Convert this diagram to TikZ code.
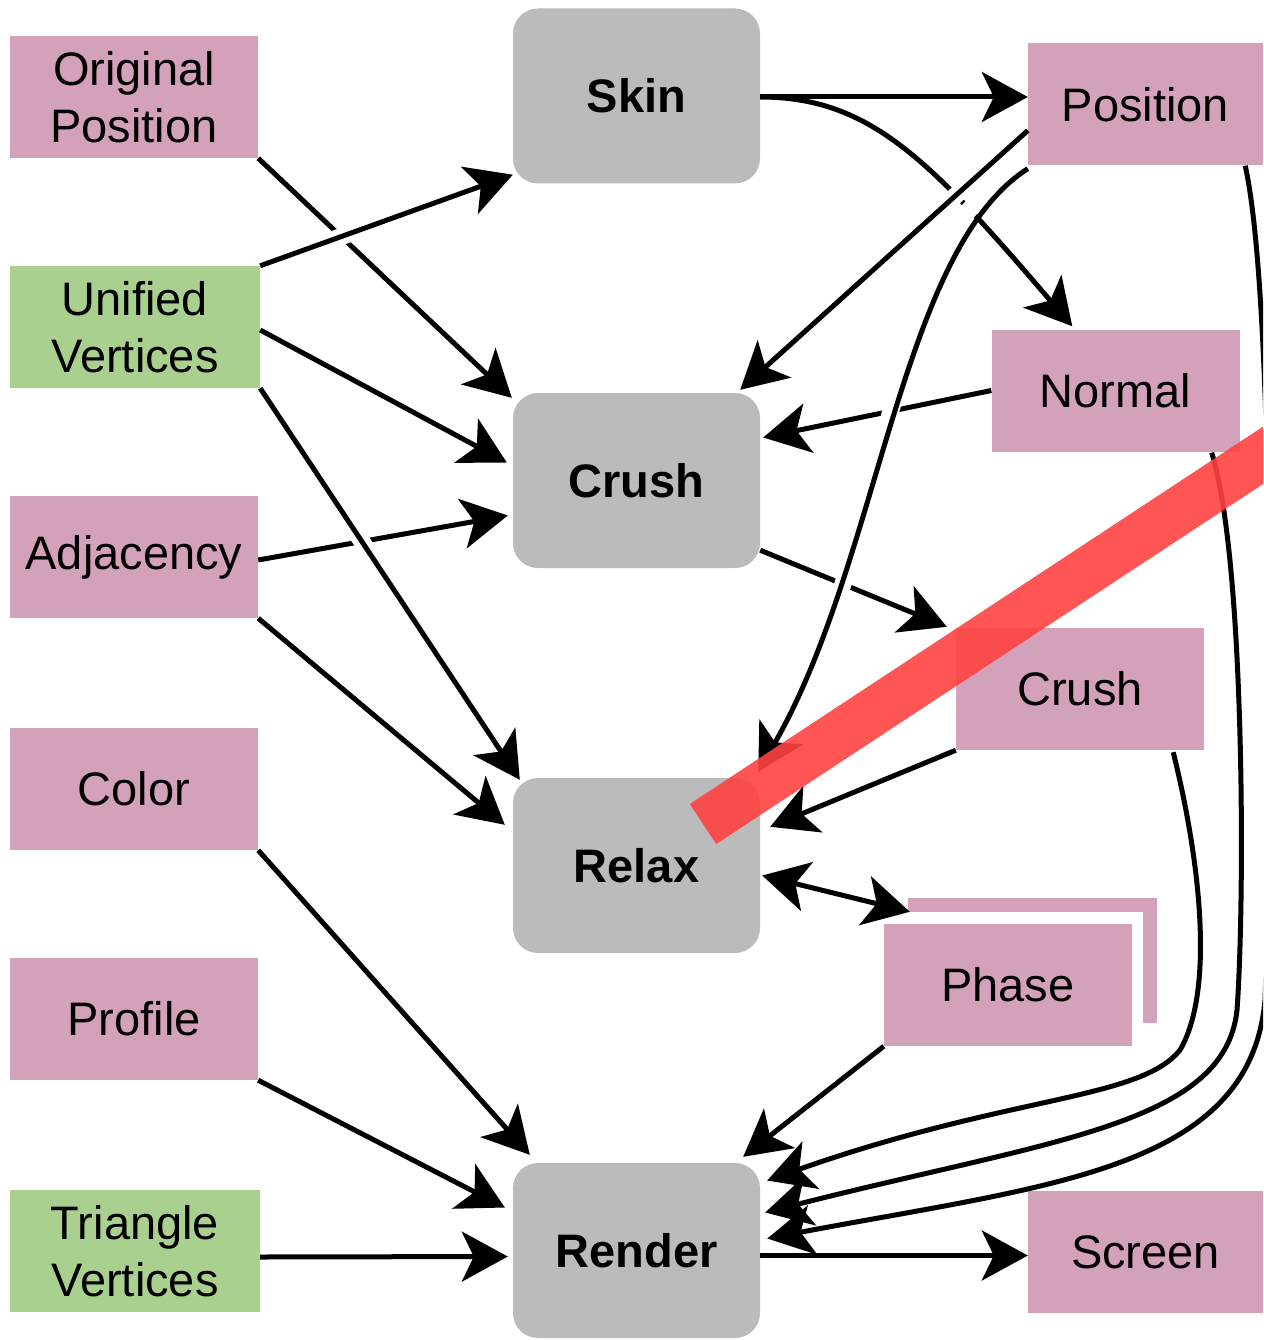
\documentclass[tikz,border=0pt]{standalone}
\usepackage{fontspec}
\setmainfont{Liberation Sans}
\usetikzlibrary{arrows.meta}
\definecolor{boxpink}{RGB}{212,161,187}
\definecolor{boxgreen}{RGB}{169,208,142}
\definecolor{boxgray}{RGB}{187,187,187}
\definecolor{strike}{RGB}{255,66,66}
\newcommand{\labelfont}{\fontsize{47}{57}\selectfont}

\begin{document}
\begin{tikzpicture}[x=1pt,y=-1pt,
  pinkbox/.style={fill=boxpink, minimum width=248pt, minimum height=122pt,
    inner sep=0pt, align=center, font=\labelfont},
  greenbox/.style={pinkbox, fill=boxgreen, minimum width=250pt},
  procbox/.style={fill=boxgray, rounded corners=25pt, minimum width=247pt,
    minimum height=175pt, inner sep=0pt, font=\labelfont\bfseries},
  conn/.style={draw, line width=5pt, -{Stealth[length=46pt,width=50pt,inset=12pt]}},
  both/.style={draw, line width=5pt, {Stealth[length=46pt,width=50pt,inset=12pt]}-{Stealth[length=46pt,width=50pt,inset=12pt]}},
  halo/.style={preaction={draw=white, line width=17pt, -, shorten <=#1, shorten >=50pt}},
  halo/.default=20pt]

\useasboundingbox (0,0) rectangle (1263,1340);
\clip (0,0) rectangle (1263,1340);

% input buffers
\node[pinkbox]  (op)   at (134,97)   {Original\\Position};
\node[greenbox] (uv)   at (135,327)  {Unified\\Vertices};
\node[pinkbox]  (adj)  at (134,557)  {Adjacency};
\node[pinkbox]  (col)  at (134,789)  {Color};
\node[pinkbox]  (prof) at (134,1019) {Profile};
\node[greenbox] (tv)   at (135,1251) {Triangle\\Vertices};

% shader passes
\node[procbox] (skin)   at (636.5,96)     {Skin};
\node[procbox] (crush)  at (636.5,480.5)  {Crush};
\node[procbox] (relax)  at (636.5,865.5)  {Relax};
\node[procbox] (render) at (636.5,1250.5) {Render};

% intermediate buffers
\node[pinkbox, minimum width=235pt] (pos) at (1145.5,104.5) {Position};
\node[pinkbox] (normal) at (1115.5,390.5) {Normal};
\node[pinkbox] (crushb) at (1080,689)     {Crush};
\fill[boxpink] (908,898) rectangle (1157,1023);
\fill[white] (874,912) rectangle (1143,1056);
\node[pinkbox] (phase)  at (1008,985)     {Phase};
\node[pinkbox, minimum width=235pt] (screen) at (1145.5,1252) {Screen};

% left-hand inputs
\draw[conn] (op.south east) -- ([shift={(-1,5)}]crush.north west);
\draw[conn, halo] (uv.north east) -- ([shift={(0,-9)}]skin.south west);
\draw[conn] ([shift={(0,3)}]uv.east) -- ([shift={(-6,-18)}]crush.west);
\draw[conn] ([shift={(0,3)}]adj.east) -- ([shift={(-5,35)}]crush.west);
\draw[conn, halo] (uv.south east) -- ([shift={(7,2)}]relax.north west);
\draw[conn] (adj.south east) -- ([shift={(-8,47)}]relax.north west);
\draw[conn] (col.south east) -- ([shift={(17,-8)}]render.north west);
\draw[conn] (prof.south east) -- ([shift={(-8,-43)}]render.west);
\draw[conn] ([shift={(0,6)}]tv.east) -- ([shift={(-5,6)}]render.west);

% right-hand flow
\draw[conn] ([shift={(0,1)}]skin.east) -- ([shift={(0,1)}]skin.east -| pos.west);
\draw[conn] ([shift={(0,1)}]skin.east) .. controls (870,97) and (930,160) .. ([shift={(81,-3)}]normal.north west);
\draw[conn] (normal.west) -- ([shift={(3,-43)}]crush.east);
\draw[conn] ([shift={(0,-18)}]crush.south east) -- ([shift={(-9,-1)}]crushb.north west);
\draw[conn, halo=60pt] ([shift={(0,26)}]pos.west) -- ([shift={(-20,-3)}]crush.north east);
\draw[conn, halo=50pt] ([shift={(0,3)}]pos.south west) .. controls (900,250) and (880,560) .. ([shift={(-2,-6)}]relax.north east);
\draw[conn] (crushb.south west) -- ([shift={(10,49)}]relax.north east);
\draw[both] ([shift={(2,10)}]relax.east) -- ([shift={(26,-12)}]phase.north west);
\draw[conn] (phase.south west) -- ([shift={(-17,-6)}]render.north east);

% buffers feeding the render pass
\draw[conn] ([shift={(-31,2)}]crushb.south east) .. controls (1200,860) and (1215,990) .. (1180,1050)
  .. controls (1140,1100) and (1010,1095) .. ([shift={(7,-70)}]render.east);
\draw[conn] ([shift={(-28,1)}]normal.south east) .. controls (1245,560) and (1245,900) .. (1237,1010)
  .. controls (1225,1125) and (1050,1140) .. ([shift={(5,-38)}]render.east);
\draw[conn] ([shift={(-18,0)}]pos.south east) .. controls (1275,300) and (1272,800) .. (1265,1000)
  .. controls (1250,1170) and (1050,1185) .. ([shift={(7,-12)}]render.east);
\draw[conn] ([shift={(0,5)}]render.east) -- ([shift={(0,5)}]render.east -| screen.west);

% strike-through bar
\draw[strike, opacity=0.9, line width=48pt] (703,824) -- (1300,431);
\end{tikzpicture}
\end{document}
